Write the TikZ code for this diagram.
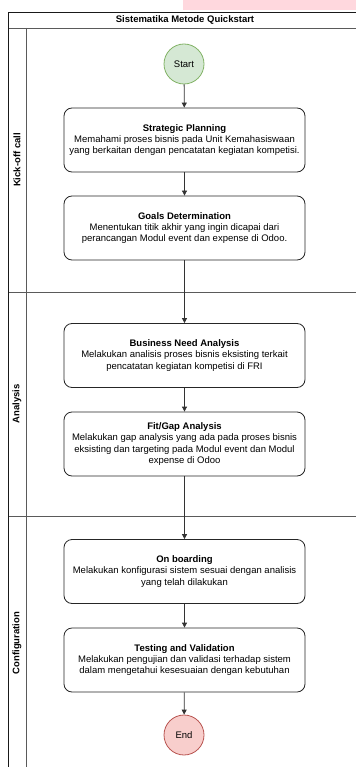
\documentclass[tikz,border=0pt]{standalone}
\usepackage{fontspec}
\setmainfont{Liberation Sans}
\usetikzlibrary{arrows.meta}
\definecolor{pinkbar}{RGB}{255,216,222}
\definecolor{startfill}{HTML}{D5E8D4}
\definecolor{startline}{HTML}{82B366}
\definecolor{endfill}{HTML}{F8CECC}
\definecolor{endline}{HTML}{B85450}
\definecolor{laneline}{HTML}{5A5A5A}
\tikzset{
  stepbox/.style={draw=black!85, line width=0.8pt, rounded corners=8pt, minimum width=241pt, minimum height=64pt, align=center, inner sep=2pt, font=\fontsize{9.5}{11.3}\selectfont},
  startnode/.style={circle, draw=startline, fill=startfill, line width=0.8pt, minimum size=40pt, inner sep=0pt, font=\fontsize{9.5}{11.3}\selectfont},
  endnode/.style={circle, draw=endline, fill=endfill, line width=0.8pt, minimum size=40pt, inner sep=0pt, font=\fontsize{9.5}{11.3}\selectfont},
  flow/.style={draw=black!80, line width=0.8pt, -{Triangle[length=5pt,width=5pt]}},
  lanelabel/.style={rotate=90, font=\bfseries\fontsize{9.5}{11.3}\selectfont},
  poolline/.style={draw=black!90, line width=0.9pt},
  laneline/.style={draw=laneline, line width=0.9pt}
}
\begin{document}
\begin{tikzpicture}[x=1pt,y=-1pt]
\useasboundingbox (0,0) rectangle (356,767);
\fill[white] (0,0) rectangle (356,767);
\fill[pinkbar] (183,0) rectangle (356,10.5);
% pool
\draw[laneline] (8,28) -- (356,28);
\draw[laneline] (26,28) -- (26,767);
\draw[laneline] (8,292) -- (356,292);
\draw[laneline] (8,516) -- (356,516);
\draw[poolline] (8,767) -- (8,12) -- (356,12);
\node[font=\bfseries\fontsize{9.5}{11.3}\selectfont] (title) at (185,20) {Sistematika Metode Quickstart};
\node[lanelabel] (l1) at (17,160) {Kick-off call};
\node[lanelabel] (l2) at (17,404) {Analysis};
\node[lanelabel] (l3) at (17,643) {Configuration};
% nodes
\node[startnode] (start) at (184,64) {Start};
\node[stepbox] (b1) at (184.5,140) {\textbf{Strategic Planning}\\Memahami proses bisnis pada Unit Kemahasiswaan\\yang berkaitan dengan pencatatan kegiatan kompetisi.};
\node[stepbox] (b2) at (184.5,228) {\textbf{Goals Determination}\\Menentukan titik akhir yang ingin dicapai dari\\perancangan Modul event dan expense di Odoo.};
\node[stepbox] (b3) at (184.5,355.5) {\textbf{Business Need Analysis}\\Melakukan analisis proses bisnis eksisting terkait\\pencatatan kegiatan kompetisi di FRI};
\node[stepbox] (b4) at (184.5,444) {\textbf{Fit/Gap Analysis}\\Melakukan gap analysis yang ada pada proses bisnis\\eksisting dan targeting pada Modul event dan Modul\\expense di Odoo};
\node[stepbox] (b5) at (184.5,571.5) {\textbf{On boarding}\\Melakukan konfigurasi sistem sesuai dengan analisis\\yang telah dilakukan};
\node[stepbox] (b6) at (184.5,660) {\textbf{Testing and Validation}\\Melakukan pengujian dan validasi terhadap sistem\\dalam mengetahui kesesuaian dengan kebutuhan};
\node[endnode] (end) at (184,735) {End};
% connectors
\draw[flow] (start) -- (b1);
\draw[flow] (b1) -- (b2);
\draw[flow] (b2) -- (b3);
\draw[flow] (b3) -- (b4);
\draw[flow] (b4) -- (b5);
\draw[flow] (b5) -- (b6);
\draw[flow] (b6) -- (end);
\end{tikzpicture}
\end{document}
